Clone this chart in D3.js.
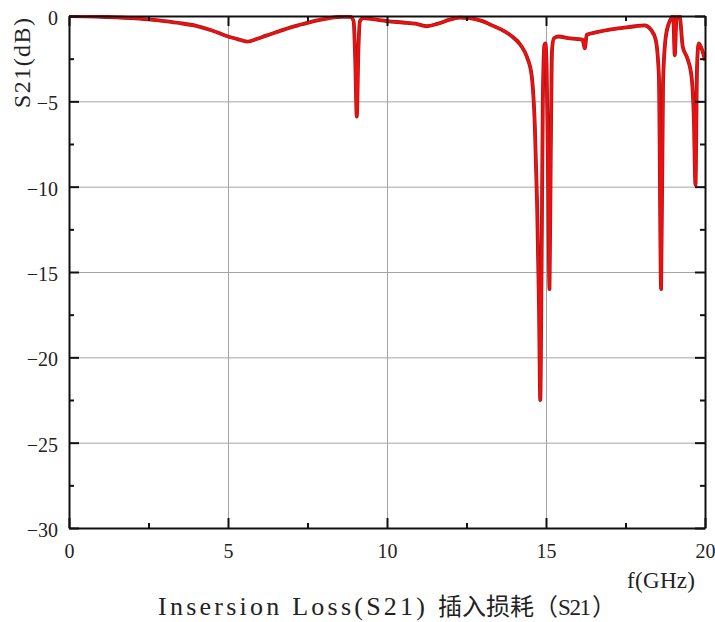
<!DOCTYPE html>
<html>
<head>
<meta charset="utf-8">
<script src="https://cdn.jsdelivr.net/npm/d3@7"></script>
<style>
  html, body { margin: 0; padding: 0; background: #fff; }
  svg { display: block; }
  text { text-spacing-trim: space-all; }
</style>
</head>
<body>
<svg id="chart" width="715" height="622"></svg>
<script>
// ---- data ----
const freqGHz = [0, 0.5, 1.0, 1.5, 2.0, 2.5, 3.0, 3.5, 4.0, 4.5, 5.0, 5.3, 5.6, 5.9, 6.2, 6.6, 7.0, 7.3, 7.7, 8.2, 8.6, 8.85,
  8.95, 9.0, 9.05, 9.1, 9.15, 9.25, 9.6, 10.0, 10.5, 10.9, 11.25, 11.6, 12.0, 12.3, 12.6, 13.0, 13.3, 13.6, 13.9,
  14.2, 14.4, 14.55, 14.65, 14.72, 14.78, 14.82, 14.86, 14.9, 14.95, 14.98, 15.02, 15.07, 15.11, 15.15, 15.19, 15.25,
  15.4, 15.7, 16.0, 16.15, 16.22, 16.28, 16.6, 17.0, 17.4, 17.8, 18.1, 18.3, 18.45, 18.55, 18.62, 18.68, 18.75,
  18.85, 18.95, 19.0, 19.05, 19.1, 19.15, 19.2, 19.3, 19.45, 19.58, 19.65, 19.7, 19.75, 19.8, 19.87, 19.93, 20.0];
const s21dB = [0, -0.02, -0.05, -0.08, -0.12, -0.2, -0.3, -0.42, -0.58, -0.85, -1.2, -1.35, -1.5, -1.35, -1.15, -0.9, -0.65, -0.5, -0.3, -0.12, -0.05, -0.05,
  -0.3, -2.5, -5.9, -2.0, -0.3, -0.12, -0.2, -0.3, -0.38, -0.45, -0.6, -0.45, -0.2, -0.1, -0.12, -0.3, -0.55, -0.8, -1.15,
  -1.7, -2.4, -3.5, -6.5, -11, -17, -22.5, -15, -5, -1.7, -1.6, -3, -10, -16, -8, -2, -1.3,
  -1.2, -1.3, -1.35, -1.4, -1.9, -1.1, -0.95, -0.8, -0.7, -0.6, -0.55, -0.8, -1.4, -3.5, -16, -4, -1.5,
  -0.5, -0.1, 0, -2.3, -0.2, 0.1, 0.05, -1.8, -2.5, -3.6, -6, -9.9, -3, -1.6, -1.8, -2.1, -2.6];
const xTickValues = [0, 5, 10, 15, 20];
const xMinorValues = [2.5, 7.5, 12.5, 17.5];
const yTickValues = [0, -5, -10, -15, -20, -25, -30];
const yMinorValues = [-2.5, -7.5, -12.5, -17.5, -22.5, -27.5];
const yLabelText = "S21(dB)";
const xLabelText = "f(GHz)";
const titleEn = "Insersion Loss(S21)";
const titleZh = "插入损耗";
const titleZhParen = ["（", "S21", "）"];

// ---- layout ----
const L = 69, R = 705, T = 16, B = 528;
const svg = d3.select("#chart");
const x = d3.scaleLinear().domain([0, 20]).range([L, R]);
const y = d3.scaleLinear().domain([-30, 0]).range([B, T]);
const latin = "'Liberation Serif', 'DejaVu Serif', serif";
const cjk = "'Noto Sans CJK SC', sans-serif";

// gridlines
const grid = svg.append("g").attr("stroke", "#a3a3a3").attr("stroke-width", 1);
grid.selectAll("line.v").data(xTickValues.filter(d => d > 0 && d < 20)).join("line")
  .attr("x1", d => x(d) + 0.5).attr("x2", d => x(d) + 0.5).attr("y1", T).attr("y2", B);
grid.selectAll("line.h").data(yTickValues.filter(d => d < 0 && d > -30)).join("line")
  .attr("y1", d => y(d) + 0.5).attr("y2", d => y(d) + 0.5).attr("x1", L).attr("x2", R);

// curve
svg.append("clipPath").attr("id", "clip").append("rect")
  .attr("x", L).attr("y", T - 1).attr("width", R - L).attr("height", B - T + 1);
const pts = freqGHz.map((f, i) => [f, s21dB[i]]);
const line = d3.line().x(d => x(d[0])).y(d => y(d[1])).curve(d3.curveMonotoneX);
const cg = svg.append("g").attr("clip-path", "url(#clip)");
cg.append("path").datum(pts).attr("d", line).attr("fill", "none")
  .attr("stroke", "#a01818").attr("stroke-width", 3.8).attr("stroke-linejoin", "round");
cg.append("path").datum(pts).attr("d", line).attr("fill", "none")
  .attr("stroke", "#ee1010").attr("stroke-width", 2.5).attr("stroke-linejoin", "round");

// axes
function styleAxis(g) {
  g.selectAll("path.domain").attr("stroke", "#111").attr("stroke-width", 2);
  g.selectAll(".tick line").attr("stroke", "#111").attr("stroke-width", 2);
}
const gb = svg.append("g").attr("transform", `translate(0,${B})`)
  .call(d3.axisBottom(x).tickValues(xTickValues).tickSize(-10).tickSizeOuter(0).tickFormat(d3.format("d")));
gb.selectAll("text").attr("y", 30).attr("dy", null)
  .attr("font-family", latin).attr("font-size", 20).attr("fill", "#222");
styleAxis(gb);
svg.append("g").attr("transform", `translate(0,${B})`)
  .call(d3.axisBottom(x).tickValues(xMinorValues).tickSize(-5).tickSizeOuter(0).tickFormat(""))
  .call(g => g.select("path.domain").remove()).call(styleAxis);

const gt = svg.append("g").attr("transform", `translate(0,${T})`)
  .call(d3.axisTop(x).tickValues(xTickValues).tickSize(-10).tickSizeOuter(0).tickFormat(""));
styleAxis(gt);
svg.append("g").attr("transform", `translate(0,${T})`)
  .call(d3.axisTop(x).tickValues(xMinorValues).tickSize(-5).tickSizeOuter(0).tickFormat(""))
  .call(g => g.select("path.domain").remove()).call(styleAxis);

const gl = svg.append("g").attr("transform", `translate(${L},0)`)
  .call(d3.axisLeft(y).tickValues(yTickValues).tickSize(-10).tickSizeOuter(0)
    .tickFormat(d => d < 0 ? "\u2212" + Math.abs(d) : String(d)));
gl.selectAll("text").attr("x", -11).attr("dy", "0.42em")
  .attr("font-family", latin).attr("font-size", 20).attr("fill", "#222");
styleAxis(gl);
svg.append("g").attr("transform", `translate(${L},0)`)
  .call(d3.axisLeft(y).tickValues(yMinorValues).tickSize(-5).tickSizeOuter(0).tickFormat(""))
  .call(g => g.select("path.domain").remove()).call(styleAxis);

const gr = svg.append("g").attr("transform", `translate(${R},0)`)
  .call(d3.axisRight(y).tickValues(yTickValues).tickSize(-10).tickSizeOuter(0).tickFormat(""));
styleAxis(gr);
svg.append("g").attr("transform", `translate(${R},0)`)
  .call(d3.axisRight(y).tickValues(yMinorValues).tickSize(-5).tickSizeOuter(0).tickFormat(""))
  .call(g => g.select("path.domain").remove()).call(styleAxis);

// labels
svg.append("text").attr("transform", "translate(30,63) rotate(-90)")
  .attr("text-anchor", "middle").attr("font-family", latin).attr("font-size", 24)
  .attr("textLength", 90).attr("lengthAdjust", "spacing").attr("fill", "#222").text(yLabelText);
svg.append("text").attr("x", 627).attr("y", 588)
  .attr("font-family", latin).attr("font-size", 23)
  .attr("textLength", 68).attr("lengthAdjust", "spacing").attr("fill", "#222").text(xLabelText);

// title
const base = 615;
svg.append("text").attr("x", 158).attr("y", base)
  .attr("font-family", latin).attr("font-size", 26)
  .attr("textLength", 267).attr("lengthAdjust", "spacing").attr("fill", "#222").text(titleEn);
svg.append("text").attr("x", 438).attr("y", base).attr("fill", "#222")
  .attr("font-family", cjk).attr("font-size", 24).attr("textLength", 96).text(titleZh);
svg.append("text").attr("x", 534).attr("y", base).attr("fill", "#222")
  .attr("font-family", cjk).attr("font-size", 24).text(titleZhParen[0]);
svg.append("text").attr("x", 558).attr("y", base).attr("fill", "#222")
  .attr("font-family", latin).attr("font-size", 23).attr("textLength", 33).text(titleZhParen[1]);
svg.append("text").attr("x", 592).attr("y", base).attr("fill", "#222")
  .attr("font-family", cjk).attr("font-size", 24).text(titleZhParen[2]);
</script>
</body>
</html>
